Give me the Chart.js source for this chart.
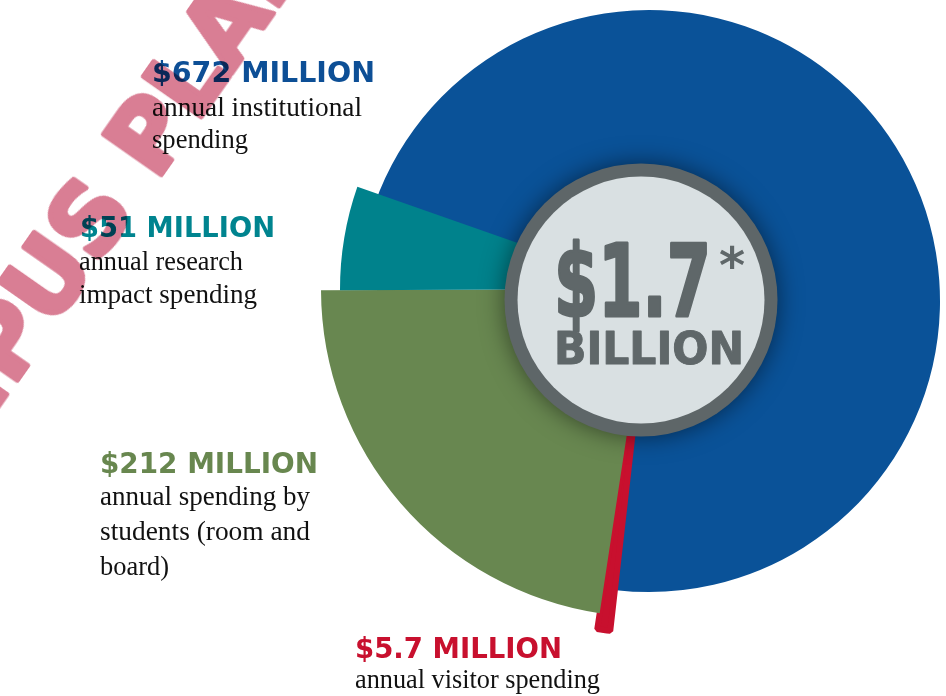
<!DOCTYPE html>
<html>
<head>
<meta charset="utf-8">
<script src="https://cdn.jsdelivr.net/npm/chart.js@4.4.1/dist/chart.umd.min.js"></script>
<style>
  html, body { margin: 0; padding: 0; background: #ffffff; }
  #wrap { position: relative; width: 946px; height: 696px; overflow: hidden; }
  #spendChart { position: absolute; left: 0; top: 0; }
  #overlay { position: absolute; left: 0; top: 0; pointer-events: none; }
</style>
</head>
<body>
<div id="wrap">
  <canvas id="spendChart" width="946" height="696"></canvas>
  <svg id="overlay" width="946" height="696" xmlns="http://www.w3.org/2000/svg"></svg>
</div>
<script>
// --- datos ---
const spendLabels = ['annual institutional spending', 'annual visitor spending',
  'annual spending by students (room and board)', 'annual research impact spending'];
const spendMillions = [672, 5.7, 212, 51];
const descLines = [
  ['annual institutional', 'spending'],
  ['annual visitor spending'],
  ['annual spending by', 'students (room and', 'board)'],
  ['annual research', 'impact spending']
];
const totalAmount = '$1.7';
const totalMark = '*';
const totalUnit = 'BILLION';
const watermarkText = 'CAMPUS PLAN';

// --- estilos / posiciones ---
const sliceColors = ['#0a5298', '#c8102e', '#688750', '#00828c'];
const headColors = ['#0d4f96', '#c8102e', '#68874f', '#00848f'];
const sliceReach = [291, 344, 328, 309];   // radio exterior de cada porción (px)
const sliceDrop = [12, 0, 0, 0];           // desplazamiento vertical del arco azul
const labelSpots = [
  { x: 152, y: 82,  w: 223, bx: 152, lineY: [116, 148], lineW: [210, 96] },
  { x: 355, y: 658, w: 207, bx: 355, lineY: [688], lineW: [245] },
  { x: 100, y: 473, w: 218, bx: 100, lineY: [505, 540, 575], lineW: [210, 210, 69] },
  { x: 80,  y: 237, w: 195, bx: 79,  lineY: [270, 303], lineW: [164, 178] }
];

// cada porción con su propio radio
const sliceShape = {
  id: 'sliceShape',
  afterDatasetsUpdate(chart) {
    chart.getDatasetMeta(0).data.forEach((arc, i) => {
      arc.outerRadius = sliceReach[i];
      arc.y += sliceDrop[i];
    });
  }
};

// disco central gris con sombra
const centerDisc = {
  id: 'centerDisc',
  afterDatasetsDraw(chart) {
    const ctx = chart.ctx;
    ctx.save();
    ctx.shadowColor = 'rgba(0, 0, 0, 0.5)';
    ctx.shadowBlur = 24;
    ctx.beginPath();
    ctx.arc(641, 300, 136.5, 0, Math.PI * 2);
    ctx.fillStyle = '#5e6668';
    ctx.fill();
    ctx.restore();
    ctx.beginPath();
    ctx.arc(641, 300, 123.5, 0, Math.PI * 2);
    ctx.fillStyle = '#d9e0e2';
    ctx.fill();
  }
};

new Chart(document.getElementById('spendChart'), {
  type: 'pie',
  data: {
    labels: spendLabels,
    datasets: [{
      data: spendMillions,
      backgroundColor: sliceColors,
      borderColor: sliceColors,
      borderWidth: [0, 6, 0, 0],
      clip: false
    }]
  },
  options: {
    responsive: false,
    animation: false,
    events: [],
    rotation: 289.3,
    layout: { padding: { left: 449, right: 97, top: 89, bottom: 207 } },
    plugins: {
      legend: { display: false },
      tooltip: { enabled: false }
    }
  },
  plugins: [sliceShape, centerDisc]
});

// --- textos ---
const NS = 'http://www.w3.org/2000/svg';
const svg = document.getElementById('overlay');

function addText(parent, str, attrs) {
  const t = document.createElementNS(NS, 'text');
  for (const k in attrs) t.setAttribute(k, attrs[k]);
  t.textContent = str;
  parent.appendChild(t);
  return t;
}

const headFont = "'DejaVu Sans', sans-serif";
const bodyFont = "'Liberation Serif', serif";

spendMillions.forEach((v, i) => {
  const spot = labelSpots[i];
  addText(svg, '$' + v + ' MILLION', {
    x: spot.x, y: spot.y, fill: headColors[i],
    'font-family': headFont, 'font-weight': 'bold', 'font-size': 29,
    textLength: spot.w, lengthAdjust: 'spacingAndGlyphs'
  });
  descLines[i].forEach((line, j) => {
    addText(svg, line, {
      x: spot.bx, y: spot.lineY[j], fill: '#111111',
      'font-family': bodyFont, 'font-size': 27,
      textLength: spot.lineW[j], lengthAdjust: 'spacingAndGlyphs'
    });
  });
});

// total en el centro
const grey = '#5f6769';
addText(svg, totalAmount, {
  x: 554, y: 316, fill: grey, stroke: grey, 'stroke-width': 3, 'stroke-linejoin': 'round',
  'font-family': headFont, 'font-weight': 'bold',
  'font-size': 100, textLength: 157, lengthAdjust: 'spacingAndGlyphs'
});
addText(svg, totalMark, {
  x: 719, y: 283, fill: grey, 'font-family': headFont, 'font-weight': 'bold', 'font-size': 50
});
addText(svg, totalUnit, {
  x: 554, y: 364, fill: grey, stroke: grey, 'stroke-width': 1, 'stroke-linejoin': 'round',
  'font-family': headFont, 'font-weight': 'bold',
  'font-size': 44, textLength: 190, lengthAdjust: 'spacingAndGlyphs'
});

// marca de agua
const mark = addText(svg, watermarkText, {
  transform: 'translate(-126 584) rotate(-55)', fill: '#d97e94',
  stroke: '#d97e94', 'stroke-width': 5, 'stroke-linejoin': 'round',
  'font-family': headFont, 'font-weight': 'bold', 'font-size': 96
});
mark.style.mixBlendMode = 'multiply';
</script>
</body>
</html>
